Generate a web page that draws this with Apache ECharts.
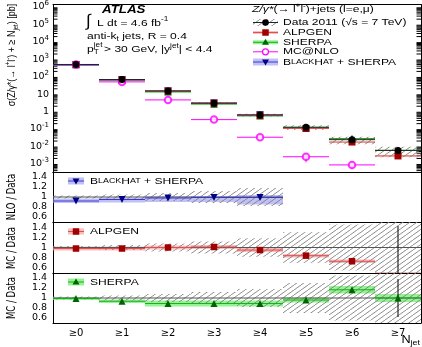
<!DOCTYPE html>
<html>
<head>
<meta charset="utf-8">
<title>Z/γ* + jets cross section vs. inclusive jet multiplicity</title>
<script src="https://cdn.jsdelivr.net/npm/echarts@6/dist/echarts.min.js"></script>
<style>
  html, body { margin: 0; padding: 0; background: #fff; }
  #chart { width: 422px; height: 347px; }
</style>
</head>
<body>
<div id="chart"></div>
<script>
// ---- values ----
const categories = ['≥0', '≥1', '≥2', '≥3', '≥4', '≥5', '≥6', '≥7'];
// measured cross sections [pb] and their relative total uncertainty
const dataXs = [500, 68, 15, 3.0, 0.63, 0.125, 0.024, 0.0058];
const dataRelErr = [0.03, 0.05, 0.08, 0.12, 0.18, 0.30, 0.45, 0.60];
// MC@NLO prediction [pb] with statistical error
const mcnloXs = [490, 50, 4.6, 0.34, 0.033, 0.0025, 0.00085, null];
const mcnloErr = [0, 0, 0, 0, 0, 0.0013, 0.0003, null];
// BlackHat+SHERPA / data, with band edges
const bhRatio = [0.92, 0.95, 0.98, 0.99, 0.99, null, null, null];
const bhLow = [0.88, 0.89, 0.90, 0.90, 0.85, null, null, null];
const bhHigh = [0.97, 0.985, 1.01, 1.02, 1.04, null, null, null];
// ALPGEN / data
const alpgenRatio = [0.98, 0.98, 1.00, 1.01, 0.95, 0.84, 0.73, 0.48];
const alpgenBand = [0.04, 0.04, 0.04, 0.04, 0.04, 0.035, 0.035, 0.04];
const alpgenStat = [0, 0, 0, 0, 0, 0, 0, 0.94];
// SHERPA / data
const sherpaRatio = [0.99, 0.935, 0.89, 0.89, 0.89, 0.96, 1.165, 1.0];
const sherpaBand = [0.03, 0.035, 0.06, 0.06, 0.06, 0.05, 0.075, 0.08];
const sherpaStat = [0, 0, 0, 0, 0, 0, 0, 0.38];
// axis ranges and ticks
const ratioTicks = [0.6, 0.8, 1, 1.2, 1.4];
const ratioRange = [0.5, 1.5];
const xsRange = [3.33e-4, 1.38e6];

// ---- styling ----
const FONT = '"Liberation Sans", Arial, Helvetica, sans-serif';
const TICKFONT = '"DejaVu Sans", sans-serif';
const NARROW = '"Liberation Sans Narrow", "DejaVu Sans Condensed", sans-serif';
const WIDE = 1.27;   // horizontal stretch of the annotation texts
const COL = {
  data: '#000000', hatch: '#808080', one: '#555555',
  bhMarker: '#000080', bhLine: '#3a3ad0', bhBand: 'rgba(150,150,240,0.6)',
  alMarker: '#a00000', alLine: '#e05050', alBand: 'rgba(250,160,160,0.7)',
  shMarker: '#006400', shLine: '#22aa22', shBand: 'rgba(110,240,110,0.75)',
  nlo: '#ff00ff'
};
const RICH = {
  n: { fontSize: 9.5, fontFamily: FONT, lineHeight: 14 },
  it: { fontSize: 9.5, fontFamily: FONT, fontStyle: 'italic', lineHeight: 14 },
  sup: { fontSize: 6.5, fontFamily: FONT, lineHeight: 7, verticalAlign: 'top' },
  sub: { fontSize: 6.5, fontFamily: FONT, lineHeight: 7, verticalAlign: 'bottom' },
  sc: { fontSize: 7, fontFamily: FONT, lineHeight: 14 }
};

function hatchCanvas(color) {
  const c = document.createElement('canvas');
  c.width = 7; c.height = 5;
  const g = c.getContext('2d');
  g.strokeStyle = color; g.lineWidth = 0.9;
  g.beginPath();
  [-7, 0, 7].forEach(function (dx) { g.moveTo(dx, 5); g.lineTo(dx + 7, 0); });
  g.stroke();
  return c;
}
const HATCH = { image: hatchCanvas(COL.hatch), repeat: 'repeat' };

// ---- helpers ----
const idx = categories.map(function (_, i) { return i; });
function has(a, i) { return a[i] !== null && a[i] !== undefined; }
function clampY(y, cs) { return Math.max(cs.y, Math.min(cs.y + cs.height, y)); }

// horizontal bin mark: optional band [lo, hi] and a line at the central value
function binSeries(g, rows, st, z) {
  return {
    type: 'custom', xAxisIndex: 2 * g, yAxisIndex: 2 * g, z: z, silent: true,
    data: rows,
    renderItem: function (params, api) {
      const cs = params.coordSys;
      const i = api.value(0);
      const w = api.size([1, 0])[0];
      const c = api.coord([i, api.value(1)]);
      const x0 = c[0] - w / 2;
      const kids = [];
      if (st.fill) {
        const yl = clampY(api.coord([i, api.value(2)])[1], cs);
        const yh = clampY(api.coord([i, api.value(3)])[1], cs);
        kids.push({ type: 'rect', shape: { x: x0, y: yh, width: w, height: yl - yh }, style: { fill: st.fill } });
      }
      if (st.stroke && c[1] >= cs.y && c[1] <= cs.y + cs.height) {
        kids.push({ type: 'line', shape: { x1: x0, y1: c[1], x2: x0 + w, y2: c[1] },
          style: { stroke: st.stroke, lineWidth: st.lineWidth || 1 } });
      }
      return { type: 'group', children: kids };
    }
  };
}
// vertical error bar [i, lo, hi]
function errSeries(g, rows, color, z) {
  return {
    type: 'custom', xAxisIndex: 2 * g, yAxisIndex: 2 * g, z: z, silent: true,
    data: rows,
    renderItem: function (params, api) {
      const cs = params.coordSys;
      const i = api.value(0);
      const a = api.coord([i, api.value(1)]);
      const b = api.coord([i, api.value(2)]);
      const y1 = isFinite(a[1]) ? clampY(a[1], cs) : cs.y + cs.height;
      return { type: 'line', shape: { x1: a[0], y1: y1, x2: a[0], y2: clampY(b[1], cs) },
        style: { stroke: color, lineWidth: 1 } };
    }
  };
}
function markSeries(g, rows, symbol, size, color, z, extra) {
  return Object.assign({
    type: 'scatter', xAxisIndex: 2 * g, yAxisIndex: 2 * g, z: z, silent: true, clip: true,
    symbol: symbol, symbolSize: size, data: rows,
    itemStyle: { color: color, opacity: 1 }
  }, extra || {});
}

// ---- rows for the cross-section panel ----
const mainData = idx.map(function (i) { return [i, dataXs[i], dataXs[i] * (1 - dataRelErr[i]), dataXs[i] * (1 + dataRelErr[i])]; });
const mainBH = idx.filter(function (i) { return has(bhRatio, i); })
  .map(function (i) { return [i, dataXs[i] * bhRatio[i], dataXs[i] * bhLow[i], dataXs[i] * bhHigh[i]]; });
const mainAL = idx.map(function (i) { return [i, dataXs[i] * alpgenRatio[i], dataXs[i] * (alpgenRatio[i] - alpgenBand[i]), dataXs[i] * (alpgenRatio[i] + alpgenBand[i])]; });
const mainSH = idx.map(function (i) { return [i, dataXs[i] * sherpaRatio[i], dataXs[i] * (sherpaRatio[i] - sherpaBand[i]), dataXs[i] * (sherpaRatio[i] + sherpaBand[i])]; });
const mainNLO = idx.filter(function (i) { return has(mcnloXs, i); }).map(function (i) { return [i, mcnloXs[i]]; });
const mainNLOErr = idx.filter(function (i) { return has(mcnloXs, i) && mcnloErr[i] > 0; })
  .map(function (i) { return [i, mcnloXs[i] - mcnloErr[i], mcnloXs[i] + mcnloErr[i]]; });

// minor ticks of the logarithmic axis (2..9 x 10^n)
const minorTicks = [];
for (let e = -4; e <= 6; e++) for (let k = 2; k <= 9; k++) {
  const v = k * Math.pow(10, e);
  if (v > xsRange[0] && v < xsRange[1]) minorTicks.push([0, v]);
}

// ---- rows for the ratio panels ----
function inRange(v) { return v >= ratioRange[0] && v <= ratioRange[1]; }
function hatchRows(sel) { return sel.map(function (i) { return [i, 1, 1 - dataRelErr[i], 1 + dataRelErr[i]]; }); }
const bhBins = idx.filter(function (i) { return has(bhRatio, i); });
const ratioBH = bhBins.map(function (i) { return [i, bhRatio[i], bhLow[i], bhHigh[i]]; });
const ratioAL = idx.map(function (i) { return [i, alpgenRatio[i], alpgenRatio[i] - alpgenBand[i], alpgenRatio[i] + alpgenBand[i]]; });
const ratioSH = idx.map(function (i) { return [i, sherpaRatio[i], sherpaRatio[i] - sherpaBand[i], sherpaRatio[i] + sherpaBand[i]]; });
function pts(a) { return idx.filter(function (i) { return has(a, i) && inRange(a[i]); }).map(function (i) { return [i, a[i]]; }); }
function errs(r, s) { return idx.filter(function (i) { return s[i] > 0; }).map(function (i) { return [i, r[i] - s[i], r[i] + s[i]]; }); }

// ---- axes ----
const gridTops = [1, 172, 222, 273];
const gridHeights = [171, 50, 51, 50];
const grids = gridTops.map(function (t, g) { return { left: 53, top: t, width: 368, height: gridHeights[g] }; });
const AXLINE = { show: true, lineStyle: { color: '#000', width: 1 } };
const xAxes = [];
const yAxes = [];
grids.forEach(function (_, g) {
  xAxes.push({
    type: 'category', gridIndex: g, data: categories, position: 'bottom', axisLine: AXLINE,
    axisTick: { inside: true, alignWithLabel: true, length: 5, lineStyle: { color: '#000' } },
    axisLabel: g === 3 ? { show: true, fontFamily: TICKFONT, fontSize: 10, color: '#000', margin: 5 } : { show: false },
    splitLine: { show: false }
  });
  xAxes.push({
    type: 'category', gridIndex: g, data: categories, position: 'top', axisLine: AXLINE,
    axisTick: { inside: true, alignWithLabel: true, length: 5, lineStyle: { color: '#000' } },
    axisLabel: { show: false }, splitLine: { show: false }
  });
  if (g === 0) {
    const logY = {
      type: 'log', logBase: 10, gridIndex: 0, min: xsRange[0], max: xsRange[1], splitNumber: 10,
      axisLine: AXLINE, splitLine: { show: false },
      axisTick: { inside: true, length: 8, lineStyle: { color: '#000' } }
    };
    yAxes.push(Object.assign({}, logY, {
      position: 'left',
      axisLabel: {
        margin: 4, color: '#000', fontFamily: TICKFONT, fontSize: 9.5,
        formatter: function (v) {
          const e = Math.log10(v);
          const r = Math.round(e);
          if (Math.abs(e - r) > 1e-6) return '';
          if (r === 0) return '{b|1}';
          if (r === 1) return '{b|10}';
          return '{b|10}{s|' + (r < 0 ? '-' : '') + Math.abs(r) + '}';
        },
        rich: {
          b: { fontSize: 9.5, fontFamily: TICKFONT, lineHeight: 14 },
          s: { fontSize: 7, fontFamily: TICKFONT, lineHeight: 7, verticalAlign: 'top' }
        }
      }
    }));
    yAxes.push(Object.assign({}, logY, { position: 'right', axisLabel: { show: false } }));
  } else {
    const linY = {
      type: 'value', gridIndex: g, min: ratioRange[0], max: ratioRange[1],
      axisLine: AXLINE, splitLine: { show: false },
      axisTick: { inside: true, length: 7, customValues: ratioTicks, lineStyle: { color: '#000' } }
    };
    yAxes.push(Object.assign({}, linY, {
      position: 'left',
      axisLabel: { customValues: ratioTicks, showMinLabel: true, showMaxLabel: true, hideOverlap: false,
        margin: 6, color: '#000', fontFamily: TICKFONT, fontSize: 9.5,
        formatter: function (v) { return String(v); } }
    }));
    yAxes.push(Object.assign({}, linY, { position: 'right', axisLabel: { show: false } }));
  }
});

// ---- series ----
const series = [
  // log-axis minor ticks on both sides of the upper panel
  {
    type: 'custom', xAxisIndex: 0, yAxisIndex: 0, z: 1, silent: true, data: minorTicks,
    renderItem: function (params, api) {
      const cs = params.coordSys;
      const y = api.coord([0, api.value(1)])[1];
      return { type: 'group', children: [
        { type: 'line', shape: { x1: cs.x, y1: y, x2: cs.x + 4.5, y2: y }, style: { stroke: '#000', lineWidth: 1 } },
        { type: 'line', shape: { x1: cs.x + cs.width - 4.5, y1: y, x2: cs.x + cs.width, y2: y }, style: { stroke: '#000', lineWidth: 1 } }
      ] };
    }
  },
  // upper panel: cross sections
  binSeries(0, mainBH, { fill: COL.bhBand }, 2),
  binSeries(0, mainSH, { fill: COL.shBand }, 2),
  binSeries(0, mainAL, { fill: COL.alBand }, 2),
  binSeries(0, mainData, { fill: HATCH }, 3),
  binSeries(0, mainBH, { stroke: COL.bhLine }, 4),
  binSeries(0, mainSH, { stroke: COL.shLine }, 4),
  binSeries(0, mainAL, { stroke: COL.alLine }, 4),
  binSeries(0, mainNLO.map(function (r) { return [r[0], r[1], r[1], r[1]]; }), { stroke: COL.nlo }, 4),
  binSeries(0, mainData, { stroke: '#222' }, 5),
  errSeries(0, mainNLOErr, COL.nlo, 5),
  markSeries(0, mainBH.map(function (r) { return [r[0], r[1]]; }), 'triangle', 7.5, COL.bhMarker, 6, { symbolRotate: 180 }),
  markSeries(0, mainSH.map(function (r) { return [r[0], r[1]]; }), 'triangle', 7.5, COL.shMarker, 6),
  markSeries(0, mainAL.map(function (r) { return [r[0], r[1]]; }), 'rect', 7, COL.alMarker, 6),
  markSeries(0, mainNLO, 'emptyCircle', 6.5, COL.nlo, 6, { itemStyle: { color: COL.nlo, borderColor: COL.nlo, borderWidth: 1.2 } }),
  markSeries(0, mainData.map(function (r) { return [r[0], r[1]]; }), 'circle', 7, COL.data, 7),

  // BlackHat+SHERPA / data
  binSeries(1, ratioBH, { fill: COL.bhBand }, 2),
  binSeries(1, hatchRows(bhBins), { fill: HATCH, stroke: COL.one }, 3),
  binSeries(1, ratioBH, { stroke: COL.bhLine }, 4),
  markSeries(1, pts(bhRatio), 'triangle', 7, COL.bhMarker, 6, { symbolRotate: 180 }),

  // ALPGEN / data
  binSeries(2, ratioAL, { fill: COL.alBand }, 2),
  binSeries(2, hatchRows(idx), { fill: HATCH, stroke: COL.one }, 3),
  binSeries(2, ratioAL, { stroke: COL.alLine }, 4),
  errSeries(2, errs(alpgenRatio, alpgenStat), '#000', 5),
  markSeries(2, pts(alpgenRatio), 'rect', 6.5, COL.alMarker, 6),

  // SHERPA / data
  binSeries(3, ratioSH, { fill: COL.shBand }, 2),
  binSeries(3, hatchRows(idx), { fill: HATCH, stroke: COL.one }, 3),
  binSeries(3, ratioSH, { stroke: COL.shLine }, 4),
  errSeries(3, errs(sherpaRatio, sherpaStat), '#000', 5),
  markSeries(3, pts(sherpaRatio), 'triangle', 7, COL.shMarker, 6)
];

// ---- annotations and legends ----
// horizontal text, stretched sideways
function txt(x, y, text, st) {
  return { type: 'text', x: x, y: y, scaleX: WIDE, silent: true, z: 100,
    style: Object.assign({ text: text, fontSize: 9.5, fontFamily: FONT, fill: '#000', align: 'left', verticalAlign: 'middle', rich: RICH }, st || {}) };
}
// vertical (bottom-to-top) axis title
function vtxt(x, y, text, st) {
  return { type: 'text', x: x, y: y, rotation: Math.PI / 2, scaleY: 1.2, silent: true, z: 100,
    style: Object.assign({ text: text, fontSize: 9, fontFamily: FONT, fill: '#000', align: 'center', verticalAlign: 'middle', rich: RICH }, st || {}) };
}
function rect(x, y, w, h, fill) { return { type: 'rect', silent: true, z: 100, shape: { x: x, y: y, width: w, height: h }, style: { fill: fill } }; }
function hline(x1, x2, y, color) { return { type: 'line', silent: true, z: 101, shape: { x1: x1, y1: y, x2: x2, y2: y }, style: { stroke: color, lineWidth: 1 } }; }
function triangle(cx, cy, s, down, color) {
  const h = s * 0.87;
  const p = down ? [[cx - s / 2, cy - h / 2], [cx + s / 2, cy - h / 2], [cx, cy + h / 2]]
                 : [[cx - s / 2, cy + h / 2], [cx + s / 2, cy + h / 2], [cx, cy - h / 2]];
  return { type: 'polygon', silent: true, z: 102, shape: { points: p }, style: { fill: color } };
}
function square(cx, cy, s, color) { return { type: 'rect', silent: true, z: 102, shape: { x: cx - s / 2, y: cy - s / 2, width: s, height: s }, style: { fill: color } }; }
function dot(cx, cy, r, fill, stroke) {
  return { type: 'circle', silent: true, z: 102, shape: { cx: cx, cy: cy, r: r },
    style: stroke ? { fill: '#fff', stroke: stroke, lineWidth: 1.2 } : { fill: fill } };
}

const LX0 = 253, LX1 = 278, LCX = 265.5, LTX = 283;
const legY = [22.5, 32.5, 42.3, 51.8, 62];
const RICH_VT = {
  n: { fontSize: 9, fontFamily: FONT, lineHeight: 13 },
  sup: { fontSize: 6, fontFamily: FONT, lineHeight: 6, verticalAlign: 'top' },
  sub: { fontSize: 6, fontFamily: FONT, lineHeight: 6, verticalAlign: 'bottom' }
};
const graphic = [
  // axis titles
  vtxt(12, 55, '{n|σ(Z/γ*(→ l}{sup|+}{n|l}{sup|-}{n|) + ≥ N}{sub|jet}{n|) [pb]}', { rich: RICH_VT }),
  vtxt(12, 197, 'NLO / Data', { fontFamily: NARROW, fontSize: 9.5, rich: null }),
  vtxt(12, 248, 'MC / Data', { fontFamily: NARROW, fontSize: 9.5, rich: null }),
  vtxt(12, 298, 'MC / Data', { fontFamily: NARROW, fontSize: 9.5, rich: null }),
  txt(420, 340, '{b|N}{s|jet}', { align: 'right', rich: {
    b: { fontSize: 10, fontFamily: FONT, lineHeight: 14 },
    s: { fontSize: 7, fontFamily: FONT, lineHeight: 7, verticalAlign: 'bottom' } } }),

  // experiment label and selection
  txt(102, 10, 'ATLAS', { fontSize: 10.5, fontWeight: 'bold', fontStyle: 'italic', rich: null }),
  { type: 'text', x: 86, y: 21, silent: true, z: 100, style: { text: '∫', fontSize: 17, fontFamily: FONT, fill: '#000', verticalAlign: 'middle' } },
  txt(97, 23, '{n|L dt = 4.6 fb}{sup|-1}'),
  txt(87, 36, '{n|anti-k}{sub|t}{n| jets, R = 0.4}'),
  txt(87, 49.5, 'p', { rich: null }),
  txt(93.7, 45, 'jet', { fontSize: 6.5, rich: null }),
  txt(93.7, 52.5, 'T', { fontSize: 6.5, rich: null }),
  txt(104, 49.5, '{n|> 30 GeV, |y}{sup|jet}{n|| < 4.4}'),

  // legend of the upper panel
  txt(252, 9.5, '{it|Z/γ*}{n|(→ l}{sup|+}{n|l}{sup|-}{n|)+jets (l=e,μ)}'),
  rect(LX0, legY[0] - 3.5, LX1 - LX0, 7, HATCH), hline(LX0, LX1, legY[0], '#222'), dot(LCX, legY[0], 3.3, '#000'),
  txt(LTX, legY[0], 'Data 2011 (√s = 7 TeV)', { rich: null }),
  rect(LX0, legY[1] - 1.5, LX1 - LX0, 3, COL.alBand), hline(LX0, LX1, legY[1], COL.alLine), square(LCX, legY[1], 6.5, COL.alMarker),
  txt(LTX, legY[1], 'ALPGEN', { rich: null }),
  rect(LX0, legY[2] - 2, LX1 - LX0, 4, COL.shBand), hline(LX0, LX1, legY[2], COL.shLine), triangle(LCX, legY[2] - 0.5, 7, false, COL.shMarker),
  txt(LTX, legY[2], 'SHERPA', { rich: null }),
  hline(LX0, LX1, legY[3], COL.nlo), dot(LCX, legY[3], 3, null, COL.nlo),
  txt(LTX, legY[3], 'MC@NLO', { rich: null }),
  rect(LX0, legY[4] - 3.5, LX1 - LX0, 7, COL.bhBand), hline(LX0, LX1, legY[4], COL.bhLine), triangle(LCX, legY[4] + 0.5, 7, true, COL.bhMarker),
  txt(LTX, legY[4], '{n|B}{sc|LACK}{n|H}{sc|AT}{n| + SHERPA}'),

  // legends of the ratio panels
  rect(68, 177.5, 16, 7, COL.bhBand), hline(68, 84, 181, COL.bhLine), triangle(76, 181.5, 7, true, COL.bhMarker),
  txt(90, 181, '{n|B}{sc|LACK}{n|H}{sc|AT}{n| + SHERPA}'),
  rect(68, 228.5, 16, 6, COL.alBand), hline(68, 84, 231.5, COL.alLine), square(76, 231.5, 6.5, COL.alMarker),
  txt(90, 231.5, 'ALPGEN', { rich: null }),
  rect(68, 278.5, 16, 7, COL.shBand), hline(68, 84, 282, COL.shLine), triangle(76, 281.5, 7, false, COL.shMarker),
  txt(90, 282, 'SHERPA', { rich: null })
];

const chart = echarts.init(document.getElementById('chart'), null, { renderer: 'canvas' });
chart.setOption({
  animation: false,
  backgroundColor: '#fff',
  grid: grids,
  xAxis: xAxes,
  yAxis: yAxes,
  series: series,
  graphic: graphic
});
</script>
</body>
</html>
